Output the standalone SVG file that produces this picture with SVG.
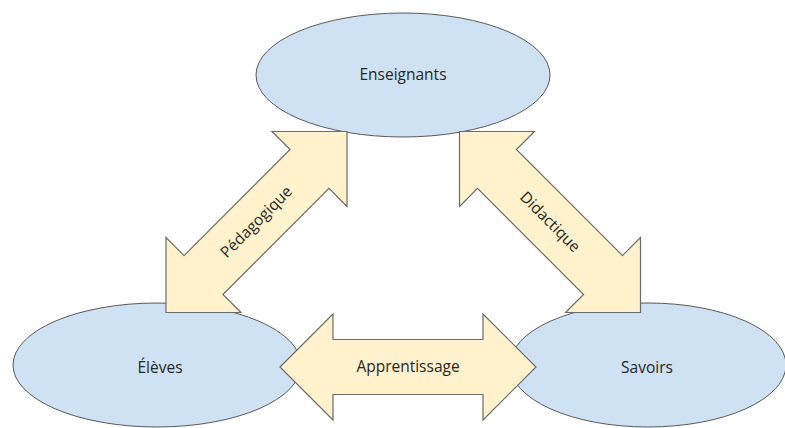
<svg xmlns="http://www.w3.org/2000/svg" width="785" height="428" viewBox="0 0 785 428">
  <style>
    .node { fill: #cfe2f3; stroke: #595959; stroke-width: 1; }
    .link { fill: #fff2cc; stroke: #6b6b6b; stroke-width: 1.2; stroke-linejoin: miter; }
    .label { font-family: "Open Sans", "Noto Sans", "Liberation Sans", sans-serif; font-size: 15.5px; fill: #262626; text-anchor: middle; }
  </style>
  <defs>
    <!-- double-headed block arrow, 256 long, centred on the origin along x -->
    <path id="dblArrow" d="M -128 0 L -75 -53 L -75 -27.5 L 75 -27.5 L 75 -53 L 128 0 L 75 53 L 75 27.5 L -75 27.5 L -75 53 Z"/>
  </defs>

  <rect width="785" height="428" fill="#ffffff"/>

  <g id="enseignants">
    <ellipse class="node" cx="403" cy="75" rx="147" ry="62"/>
    <text class="label" x="403" y="80">Enseignants</text>
  </g>
  <g id="eleves">
    <ellipse class="node" cx="157" cy="365" rx="144" ry="62"/>
    <text class="label" x="160" y="373">Élèves</text>
  </g>
  <g id="savoirs">
    <ellipse class="node" cx="648" cy="365" rx="138" ry="62"/>
    <text class="label" x="647" y="373">Savoirs</text>
  </g>

  <g id="connectors">
    <g id="pedagogique" transform="translate(256.5 222) rotate(-45)">
      <use href="#dblArrow" class="link"/>
      <text class="label" x="0" y="5">Pédagogique</text>
    </g>
    <g id="didactique" transform="translate(550 222) rotate(45)">
      <use href="#dblArrow" class="link"/>
      <text class="label" x="0" y="5">Didactique</text>
    </g>
    <g id="apprentissage" transform="translate(408 367)">
      <use href="#dblArrow" class="link"/>
      <text class="label" x="0" y="5">Apprentissage</text>
    </g>
  </g>
</svg>
